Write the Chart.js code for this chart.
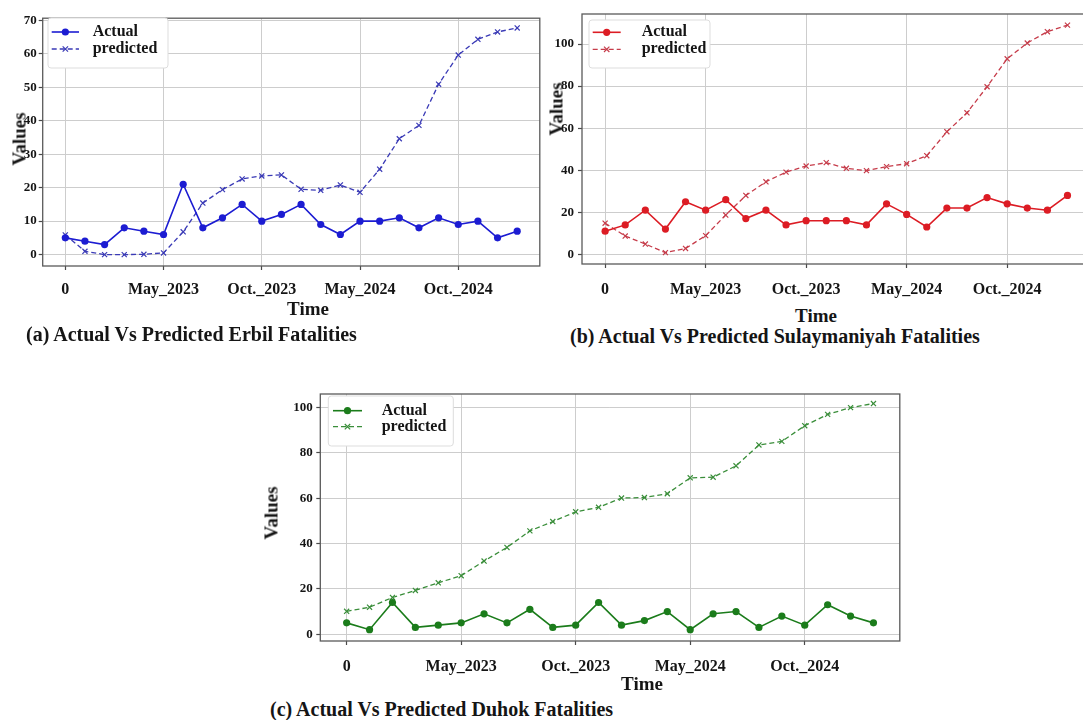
<!DOCTYPE html>
<html>
<head>
<meta charset="utf-8">
<title>Actual Vs Predicted Fatalities</title>
<script src="https://cdn.jsdelivr.net/npm/chart.js@4.4.1/dist/chart.umd.min.js"></script>
<style>
  html, body { margin: 0; padding: 0; background: #fff; overflow: hidden; }
  #fig { position: relative; width: 1083px; height: 720px; overflow: hidden; background: #fff; }
  #fig canvas { position: absolute; }
  .t { position: absolute; font-family: "Liberation Serif", "Times New Roman", serif; font-weight: bold;
       color: #151515; white-space: nowrap; line-height: 1; }
  .ax { font-size: 19px; transform: translate(-50%, -50%); }
  .ay { font-size: 19px; transform: translate(-50%, -50%) rotate(-90deg); }
  .cap { font-size: 20px; transform: translateY(-50%); }
</style>
</head>
<body>
<div id="fig">
  <canvas id="erbil" width="545" height="287" style="left:0px;top:13px"></canvas>
  <canvas id="sulaymaniyah" width="560" height="300" style="left:540px;top:0px"></canvas>
  <canvas id="duhok" width="625" height="300" style="left:280px;top:380px"></canvas>

  <div class="t ax" style="left:308px;top:308px">Time</div>
  <div class="t ay" style="left:19px;top:139px">Values</div>
  <div class="t cap" style="left:26px;top:334px">(a) Actual Vs Predicted Erbil Fatalities</div>

  <div class="t ax" style="left:816px;top:315px">Time</div>
  <div class="t ay" style="left:556px;top:109px">Values</div>
  <div class="t cap" style="left:570px;top:336px">(b) Actual Vs Predicted Sulaymaniyah Fatalities</div>

  <div class="t ax" style="left:642px;top:683px">Time</div>
  <div class="t ay" style="left:271px;top:513px">Values</div>
  <div class="t cap" style="left:270px;top:709px">(c) Actual Vs Predicted Duhok Fatalities</div>
</div>

<script>
// ---- data -------------------------------------------------------------
const monthIndex = [0, 1, 2, 3, 4, 5, 6, 7, 8, 9, 10, 11, 12, 13, 14, 15, 16, 17, 18, 19, 20, 21, 22, 23];
const tickPositions = [0, 5, 10, 15, 20];
const tickLabels = ['0', 'May_2023', 'Oct._2023', 'May_2024', 'Oct._2024'];
const seriesNames = ['Actual', 'predicted'];

const erbilActual = [5, 4, 3, 8, 7, 6, 21, 8, 11, 15, 10, 12, 15, 9, 6, 10, 10, 11, 8, 11, 9, 10, 5, 7];
const erbilPredicted = [5.9, 1.0, 0.0, 0.0, 0.1, 0.5, 6.8, 15.4, 19.4, 22.6, 23.5, 23.8, 19.5, 19.2, 20.8, 18.6,
                        25.5, 34.6, 38.6, 50.9, 59.6, 64.3, 66.5, 67.7];
const erbilYTicks = [0, 10, 20, 30, 40, 50, 60, 70];

const sulaymaniyahActual = [11, 14, 21, 12, 25, 21, 26, 17, 21, 14, 16, 16, 16, 14, 24, 19, 13, 22, 22, 27, 24, 22, 21, 28];
const sulaymaniyahPredicted = [14.8, 8.7, 4.9, 0.8, 2.8, 8.9, 18.7, 28.0, 34.5, 39.1, 42.0, 43.6, 40.9, 39.8, 41.7, 43.1,
                               46.9, 58.3, 67.3, 79.7, 93.0, 100.5, 105.9, 109.0];
const sulaymaniyahYTicks = [0, 20, 40, 60, 80, 100];

const duhokActual = [5, 2, 14, 3, 4, 5, 9, 5, 11, 3, 4, 14, 4, 6, 10, 2, 9, 10, 3, 8, 4, 13, 8, 5];
const duhokPredicted = [10.1, 11.9, 16.2, 19.3, 22.7, 25.8, 32.3, 38.3, 45.6, 49.7, 54.0, 56.0, 60.1, 60.3, 62.0, 69.0,
                        69.3, 74.3, 83.5, 85.1, 92.0, 97.0, 100.0, 101.8];
const duhokYTicks = [0, 20, 40, 60, 80, 100];

// ---- shared styling ----------------------------------------------------
const SERIF = "'Liberation Serif', 'Times New Roman', serif";
const GRID = '#cdcdcd';
const INK = '#151515';

// Box frame round the plot area plus a matplotlib-style legend in the upper left.
const panelDecor = {
  id: 'panelDecor',
  afterDatasetsDraw(chart) {
    const a = chart.chartArea, ctx = chart.ctx;
    ctx.save();
    ctx.strokeStyle = '#5a5a5a';
    ctx.lineWidth = 1.3;
    ctx.strokeRect(a.left, a.top, a.right - a.left, a.bottom - a.top);
    ctx.restore();
  },
  afterDraw(chart, args, o) {
    const ctx = chart.ctx;
    const [bx, by, bw, bh] = o.box;
    ctx.save();
    ctx.beginPath();
    if (ctx.roundRect) ctx.roundRect(bx, by, bw, bh, 3); else ctx.rect(bx, by, bw, bh);
    ctx.fillStyle = '#ffffff';
    ctx.fill();
    ctx.strokeStyle = '#dddddd';
    ctx.lineWidth = 1;
    ctx.stroke();

    chart.data.datasets.forEach((ds, i) => {
      const y = o.rows[i];
      const [x0, x1] = o.line;
      const mx = (x0 + x1) / 2;
      ctx.strokeStyle = ds.borderColor;
      ctx.lineWidth = ds.borderWidth;
      ctx.setLineDash(ds.borderDash || []);
      ctx.beginPath();
      ctx.moveTo(x0, y);
      ctx.lineTo(x1, y);
      ctx.stroke();
      ctx.setLineDash([]);
      const r = ds.pointRadius;
      if (ds.pointStyle === 'circle') {
        ctx.fillStyle = ds.backgroundColor;
        ctx.beginPath();
        ctx.arc(mx, y, r, 0, Math.PI * 2);
        ctx.fill();
      } else {
        ctx.lineWidth = ds.pointBorderWidth;
        ctx.beginPath();
        ctx.moveTo(mx - r * 0.75, y - r * 0.75); ctx.lineTo(mx + r * 0.75, y + r * 0.75);
        ctx.moveTo(mx - r * 0.75, y + r * 0.75); ctx.lineTo(mx + r * 0.75, y - r * 0.75);
        ctx.stroke();
      }
      ctx.fillStyle = INK;
      ctx.font = 'bold 16px ' + SERIF;
      ctx.textAlign = 'left';
      ctx.textBaseline = 'middle';
      ctx.fillText(ds.label, o.textX, y);
    });
    ctx.restore();
  }
};

function panel(id, cfg) {
  const L = cfg.layout;
  const toPoints = arr => arr.map((v, i) => ({ x: monthIndex[i], y: v }));
  return new Chart(document.getElementById(id), {
    type: 'line',
    data: {
      datasets: [
        {
          label: seriesNames[0],
          data: toPoints(cfg.actual),
          borderColor: cfg.colors.actual,
          backgroundColor: cfg.colors.actual,
          borderWidth: 1.6,
          pointStyle: 'circle',
          pointRadius: 3.6,
          pointBorderWidth: 0,
          tension: 0
        },
        {
          label: seriesNames[1],
          data: toPoints(cfg.predicted),
          borderColor: cfg.colors.predicted,
          backgroundColor: cfg.colors.predicted,
          borderWidth: 1.3,
          borderDash: [5, 3],
          pointStyle: 'crossRot',
          pointRadius: 3.6,
          pointBorderWidth: 1.2,
          tension: 0
        }
      ]
    },
    options: {
      responsive: false,
      animation: false,
      devicePixelRatio: 1,
      layout: { padding: { left: 0, top: L.top, right: L.right, bottom: 0 } },
      plugins: {
        legend: { display: false },
        tooltip: { enabled: false },
        panelDecor: cfg.legend
      },
      scales: {
        x: {
          type: 'linear',
          min: -1.15,
          max: 24.15,
          afterBuildTicks: s => { s.ticks = tickPositions.map(v => ({ value: v })); },
          afterFit: s => { s.height = L.xHeight; s.paddingLeft = 0; s.paddingRight = 0; },
          ticks: {
            callback: v => tickLabels[tickPositions.indexOf(v)],
            font: { family: SERIF, size: 16, weight: 'bold' },
            color: INK,
            padding: L.xPad,
            maxRotation: 0,
            autoSkip: false
          },
          grid: { color: GRID, lineWidth: 1, drawTicks: true, tickLength: 4, tickColor: '#4a4a4a', tickWidth: 1.2 },
          border: { display: false }
        },
        y: {
          type: 'linear',
          min: cfg.yMin,
          max: cfg.yMax,
          afterBuildTicks: s => { s.ticks = cfg.yTicks.map(v => ({ value: v })); },
          afterFit: s => { s.width = L.yWidth; s.paddingTop = 0; s.paddingBottom = 0; },
          ticks: {
            font: { family: SERIF, size: 13, weight: 'bold' },
            color: INK,
            padding: L.yPad
          },
          grid: { color: GRID, lineWidth: 1, drawTicks: true, tickLength: 4, tickColor: '#4a4a4a', tickWidth: 1.2 },
          border: { display: false }
        }
      }
    },
    plugins: [panelDecor]
  });
}

panel('erbil', {
  actual: erbilActual,
  predicted: erbilPredicted,
  yTicks: erbilYTicks,
  yMin: -3.4, yMax: 70.6,
  colors: { actual: '#1c1cd2', predicted: '#3a3ab6' },
  layout: { top: 1, right: 4.8, xHeight: 34, yWidth: 42.7, xPad: 10.4, yPad: 2 },
  legend: { box: [48, 5, 120, 50], line: [51.7, 79], textX: 92.7, rows: [19, 36] }
});

panel('sulaymaniyah', {
  actual: sulaymaniyahActual,
  predicted: sulaymaniyahPredicted,
  yTicks: sulaymaniyahYTicks,
  yMin: -4.6, yMax: 114.3,
  colors: { actual: '#dc1c24', predicted: '#c63c4a' },
  layout: { top: 14, right: 9.4, xHeight: 36, yWidth: 42, xPad: 12.4, yPad: 4 },
  legend: { box: [49, 20, 121, 48], line: [52.7, 80.7], textX: 101.7, rows: [32.3, 49.3] }
});

panel('duhok', {
  actual: duhokActual,
  predicted: duhokPredicted,
  yTicks: duhokYTicks,
  yMin: -3, yMax: 106,
  colors: { actual: '#1b7c1b', predicted: '#3a8e3a' },
  layout: { top: 14, right: 5.2, xHeight: 39, yWidth: 40.3, xPad: 12.1, yPad: 3.5 },
  legend: { box: [48.3, 16, 125, 50], line: [53, 82], textX: 101.7, rows: [30.7, 46.7] }
});
</script>
</body>
</html>
